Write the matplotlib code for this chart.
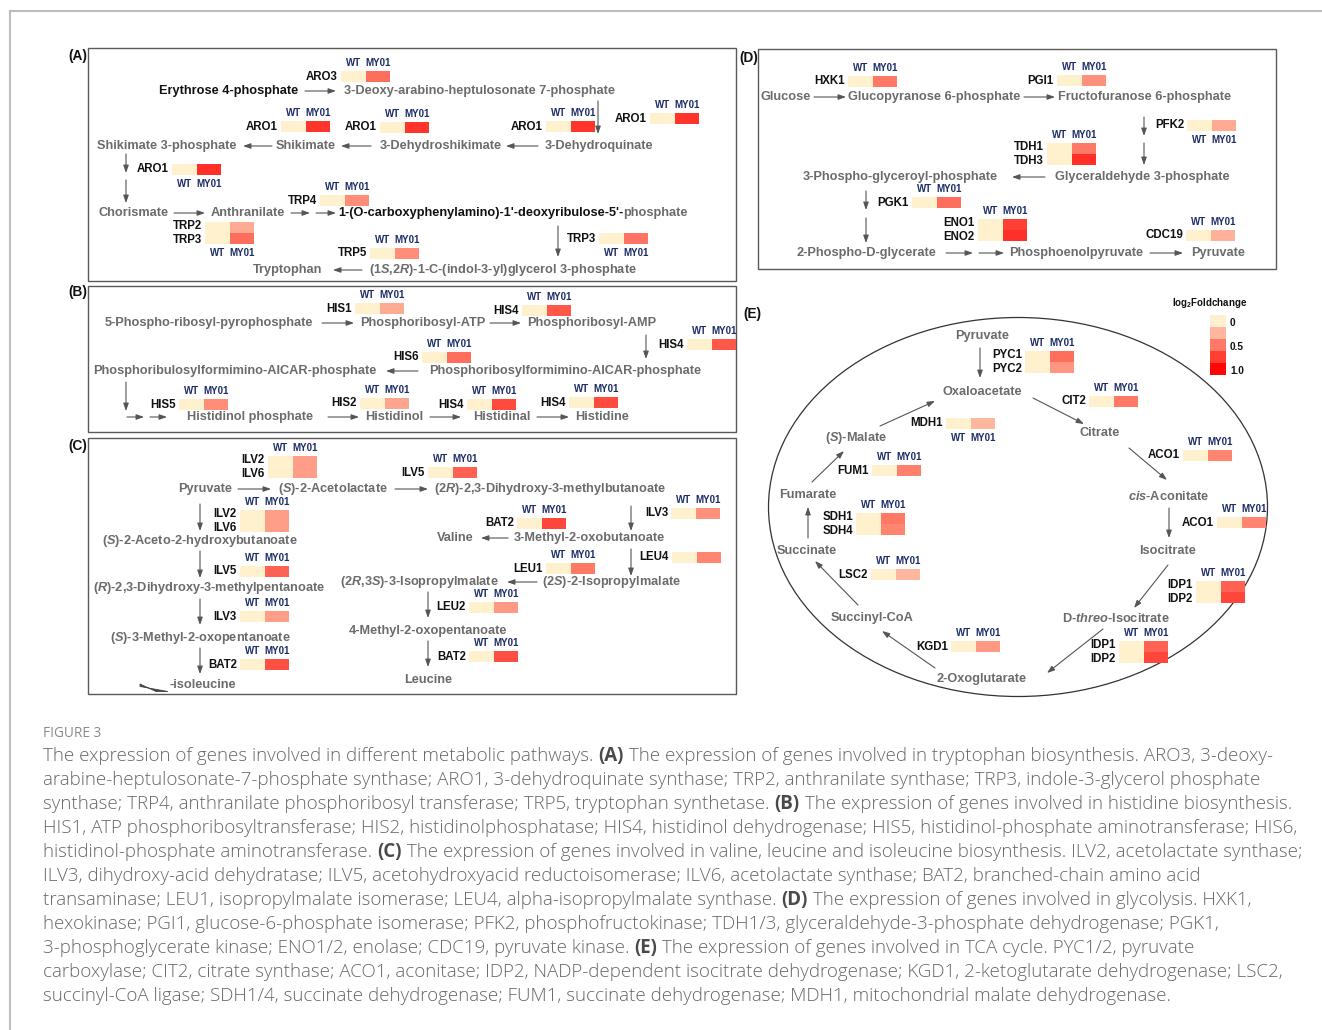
import re
import numpy as np
import matplotlib
matplotlib.use("Agg")
import matplotlib.pyplot as plt
from matplotlib.colors import LinearSegmentedColormap, Normalize
from matplotlib.patches import Rectangle, Ellipse, Polygon

# ---------------------------------------------------------------- data
samples = ["WT", "MY01"]

# log2 fold change of MY01 relative to WT (WT is the reference, 0)
trp_genes = ["ARO3", "ARO1", "ARO1", "ARO1", "ARO1", "ARO1",
             "TRP4", "TRP2", "TRP3", "TRP3", "TRP5"]
trp_fc = [0.55, 0.80, 0.80, 0.80, 0.80, 0.82,
          0.42, 0.30, 0.55, 0.52, 0.42]

his_genes = ["HIS1", "HIS4", "HIS4", "HIS6", "HIS5", "HIS2", "HIS4", "HIS4"]
his_fc = [0.30, 0.65, 0.65, 0.55, 0.42, 0.32, 0.70, 0.70]

bcaa_genes = ["ILV2", "ILV6", "ILV5", "ILV2", "ILV6", "ILV5", "ILV3", "BAT2",
              "ILV3", "BAT2", "LEU4", "LEU1", "LEU2", "BAT2"]
bcaa_fc = [0.35, 0.35, 0.60, 0.35, 0.35, 0.60, 0.35, 0.68,
           0.40, 0.72, 0.45, 0.50, 0.37, 0.68]

gly_genes = ["HXK1", "PGI1", "PFK2", "TDH1", "TDH3", "PGK1", "ENO1", "ENO2", "CDC19"]
gly_fc = [0.50, 0.40, 0.30, 0.50, 0.82, 0.55, 0.75, 0.82, 0.27]

tca_genes = ["PYC1", "PYC2", "CIT2", "MDH1", "ACO1", "FUM1", "SDH1", "SDH4",
             "ACO1", "LSC2", "IDP1", "IDP2", "KGD1", "IDP1", "IDP2"]
tca_fc = [0.55, 0.38, 0.50, 0.25, 0.45, 0.47, 0.50, 0.45,
          0.45, 0.25, 0.60, 0.72, 0.37, 0.60, 0.72]

legend_levels = [0.0, 0.25, 0.5, 0.75, 1.0]
legend_ticks = ["0", "0.5", "1.0"]
legend_tick_values = [0.0, 0.5, 1.0]

caption_title = "FIGURE 3"
caption_lines = [
    "The expression of genes involved in different metabolic pathways. (A) The expression of genes involved in tryptophan biosynthesis. ARO3, 3-deoxy-",
    "arabine-heptulosonate-7-phosphate synthase; ARO1, 3-dehydroquinate synthase; TRP2, anthranilate synthase; TRP3, indole-3-glycerol phosphate",
    "synthase; TRP4, anthranilate phosphoribosyl transferase; TRP5, tryptophan synthetase. (B) The expression of genes involved in histidine biosynthesis.",
    "HIS1, ATP phosphoribosyltransferase; HIS2, histidinolphosphatase; HIS4, histidinol dehydrogenase; HIS5, histidinol-phosphate aminotransferase; HIS6,",
    "histidinol-phosphate aminotransferase. (C) The expression of genes involved in valine, leucine and isoleucine biosynthesis. ILV2, acetolactate synthase;",
    "ILV3, dihydroxy-acid dehydratase; ILV5, acetohydroxyacid reductoisomerase; ILV6, acetolactate synthase; BAT2, branched-chain amino acid",
    "transaminase; LEU1, isopropylmalate isomerase; LEU4, alpha-isopropylmalate synthase. (D) The expression of genes involved in glycolysis. HXK1,",
    "hexokinase; PGI1, glucose-6-phosphate isomerase; PFK2, phosphofructokinase; TDH1/3, glyceraldehyde-3-phosphate dehydrogenase; PGK1,",
    "3-phosphoglycerate kinase; ENO1/2, enolase; CDC19, pyruvate kinase. (E) The expression of genes involved in TCA cycle. PYC1/2, pyruvate",
    "carboxylase; CIT2, citrate synthase; ACO1, aconitase; IDP2, NADP-dependent isocitrate dehydrogenase; KGD1, 2-ketoglutarate dehydrogenase; LSC2,",
    "succinyl-CoA ligase; SDH1/4, succinate dehydrogenase; FUM1, succinate dehydrogenase; MDH1, mitochondrial malate dehydrogenase.",
]

# ---------------------------------------------------------------- style
plt.rcParams["font.family"] = ["Liberation Sans", "DejaVu Sans"]
plt.rcParams["mathtext.fontset"] = "custom"
plt.rcParams["mathtext.rm"] = "Liberation Sans:bold"
plt.rcParams["mathtext.it"] = "Liberation Sans:italic:bold"
plt.rcParams["mathtext.bf"] = "Liberation Sans:bold"

W, H = 1322, 1030
fig = plt.figure(figsize=(W / 100, H / 100), dpi=100)
ax = fig.add_axes([0, 0, 1, 1])
ax.set_xlim(0, W)
ax.set_ylim(H, 0)
ax.axis("off")
renderer = fig.canvas.get_renderer()

cmap = LinearSegmentedColormap.from_list(
    "fc", [(0.0, "#FFF1CE"), (0.25, "#FFB69E"), (0.5, "#FF7966"),
           (0.75, "#FF4034"), (1.0, "#FF0505")])
norm = Normalize(0, 1)

MET = "#6b6b6b"
NAVY = "#1d2d68"
MET_FS = 9.2
GENE_FS = 8.3
HEAD_FS = 7.0
CW, RH = 24.5, 11
LABEL_STEP = 13.5


def met(x, y, s, ha="center", color=MET, fs=MET_FS):
    return ax.text(x, y, s, ha=ha, va="center", fontsize=fs,
                   fontweight="bold", color=color)


def arrow(x0, y0, x1, y1):
    ax.annotate("", xy=(x1, y1), xytext=(x0, y0),
                arrowprops=dict(arrowstyle="-|>,head_length=0.45,head_width=0.16",
                                color="#555555", lw=0.8, shrinkA=0, shrinkB=0))


def heat(genes, fc, idx, x0, y0, header="above"):
    n = len(idx)
    C = np.array([[0.0, fc[i]] for i in idx])
    X = x0 + CW * np.arange(3)
    Y = y0 + RH * np.arange(n + 1)
    ax.pcolormesh(X, Y, C, cmap=cmap, norm=norm, shading="flat",
                  edgecolors="none", antialiased=False)
    yc = y0 + RH * n / 2
    for r, i in enumerate(idx):
        ax.text(x0 - 3, yc + (r - (n - 1) / 2) * LABEL_STEP, genes[i],
                ha="right", va="center", fontsize=GENE_FS, fontweight="bold",
                color="#111111")
    if header:
        hy = y0 - 8 if header == "above" else y0 + n * RH + 9
        for j, s in enumerate(samples):
            ax.text(X[j] + CW / 2, hy, s, ha="center", va="center",
                    fontsize=HEAD_FS, fontweight="bold", color=NAVY)


def box(x0, y0, x1, y1, label, lx, ly):
    ax.add_patch(Rectangle((x0, y0), x1 - x0, y1 - y0, fill=False,
                           ec="#5a5a5a", lw=1.0))
    ax.text(lx, ly, label, ha="right", va="center", fontsize=9.8,
            fontweight="bold", color="#111111")


# page frame
ax.plot([10, W], [11, 11], color="#bdbdbd", lw=1.5)
ax.plot([10, 10], [11, H], color="#bdbdbd", lw=1.5)

# ---------------------------------------------------------------- (A) tryptophan
box(88, 48, 736, 281, "(A)", 87, 56)
met(229, 91, "Erythrose 4-phosphate", color="#111111")
arrow(305, 91, 336, 91)
met(344, 91, "3-Deoxy-arabino-heptulosonate 7-phosphate", ha="left")
arrow(598, 101, 598, 134)
met(167, 146, "Shikimate 3-phosphate")
arrow(272, 146, 243, 146)
met(306, 146, "Shikimate")
arrow(371, 146, 341, 146)
met(441, 146, "3-Dehydroshikimate")
arrow(538, 146, 506, 146)
met(599, 146, "3-Dehydroquinate")
arrow(126, 154, 126, 173)
arrow(126, 180, 126, 203)
met(134, 213, "Chorismate")
arrow(174, 213, 205, 213)
met(248, 213, "Anthranilate")
arrow(291, 213, 310, 213)
arrow(316, 213, 336, 213)
t = met(338, 213, "1-(O-carboxyphenylamino)-1'-deoxyribulose-5'-", ha="left",
        color="#111111")
bb = t.get_window_extent(renderer=renderer)
met(338 + bb.width, 213, "phosphate", ha="left")
arrow(558, 226, 558, 257)
met(288, 270, "Tryptophan")
arrow(362, 270, 333, 270)
met(369, 270, r"(1$\mathit{S}$,2$\mathit{R}$)-1-C-(indol-3-yl)glycerol 3-phosphate",
    ha="left")

trp_boxes = [((0,), 341, 71, "above"), ((1,), 281, 121, "above"),
             ((2,), 380, 122, "above"), ((3,), 546, 121, "above"),
             ((4,), 650, 113, "above"), ((5,), 172, 164, "below"),
             ((6,), 320, 195, "above"), ((7, 8), 205, 222, "below"),
             ((9,), 599, 233, "below"), ((10,), 370, 248, "above")]
for idx, x, y, hd in trp_boxes:
    heat(trp_genes, trp_fc, idx, x, y, hd)

# ---------------------------------------------------------------- (B) histidine
box(88, 286, 736, 432, "(B)", 87, 292)
met(209, 323, "5-Phospho-ribosyl-pyrophosphate")
arrow(322, 323, 354, 323)
met(423, 323, "Phosphoribosyl-ATP")
arrow(490, 323, 521, 323)
met(592, 323, "Phosphoribosyl-AMP")
arrow(646, 335, 646, 359)
met(235, 371, "Phosphoribulosylformimino-AICAR-phosphate")
arrow(418, 371, 386, 371)
met(565, 371, "Phosphoribosylformimino-AICAR-phosphate")
arrow(126, 382, 126, 411)
arrow(127, 417, 144, 417)
arrow(150, 417, 167, 417)
met(250, 417, "Histidinol phosphate")
arrow(328, 417, 359, 417)
met(394, 417, "Histidinol")
arrow(430, 417, 461, 417)
met(502, 417, "Histidinal")
arrow(537, 417, 569, 417)
met(602, 417, "Histidine")

his_boxes = [((0,), 355, 303, "above"), ((1,), 522, 305, "above"),
             ((2,), 687, 339, "above"), ((3,), 422, 352, "above"),
             ((4,), 179, 399, "above"), ((5,), 360, 398, "above"),
             ((6,), 467, 399, "above"), ((7,), 569, 397, "above")]
for idx, x, y, hd in his_boxes:
    heat(his_genes, his_fc, idx, x, y, hd)

# ---------------------------------------------------------------- (C) BCAA
box(88, 438, 736, 694, "(C)", 87, 446)
met(205, 489, "Pyruvate")
arrow(238, 489, 271, 489)
met(333, 489, r"($\mathit{S}$)-2-Acetolactate")
arrow(395, 489, 428, 489)
met(550, 489, r"(2$\mathit{R}$)-2,3-Dihydroxy-3-methylbutanoate")
arrow(200, 504, 200, 531)
met(200, 541, r"($\mathit{S}$)-2-Aceto-2-hydroxybutanoate")
arrow(200, 551, 200, 578)
met(209, 588, r"($\mathit{R}$)-2,3-Dihydroxy-3-methylpentanoate")
arrow(200, 599, 200, 625)
met(200, 638, r"($\mathit{S}$)-3-Methyl-2-oxopentanoate")
arrow(200, 648, 200, 674)
ax.add_patch(Polygon([(140, 684), (140, 686.5), (168, 691.5), (156, 691.5)],
                     closed=True, fc="#444444", ec="#444444", lw=0.6))
met(170, 685, "-isoleucine", ha="left")
arrow(631, 506, 631, 531)
met(455, 538, "Valine")
arrow(508, 538, 481, 538)
met(589, 538, "3-Methyl-2-oxobutanoate")
arrow(631, 549, 631, 576)
met(419, 582, r"(2$\mathit{R}$,3$\mathit{S}$)-3-Isopropylmalate")
arrow(537, 582, 507, 582)
met(611, 582, r"(2$\mathit{S}$)-2-Isopropylmalate")
arrow(428, 592, 428, 618)
met(428, 631, "4-Methyl-2-oxopentanoate")
arrow(428, 641, 428, 667)
met(428, 680, "Leucine")

bcaa_boxes = [((0, 1), 268, 456, "above"), ((2,), 428, 467, "above"),
              ((3, 4), 240, 510, "above"), ((5,), 240, 566, "above"),
              ((6,), 240, 611, "above"), ((7,), 240, 659, "above"),
              ((8,), 671, 508, "above"), ((9,), 517, 518, "above"),
              ((10,), 672, 552, None), ((11,), 546, 563, "above"),
              ((12,), 469, 602, "above"), ((13,), 469, 651, "above")]
for idx, x, y, hd in bcaa_boxes:
    heat(bcaa_genes, bcaa_fc, idx, x, y, hd)

# ---------------------------------------------------------------- (D) glycolysis
box(758, 49, 1276, 269, "(D)", 758, 58)
met(786, 97, "Glucose")
arrow(814, 97, 846, 97)
met(934, 97, "Glucopyranose 6-phosphate")
arrow(1024, 97, 1055, 97)
met(1145, 97, "Fructofuranose 6-phosphate")
arrow(1144, 117, 1144, 136)
arrow(1144, 143, 1144, 165)
met(900, 177, "3-Phospho-glyceroyl-phosphate")
arrow(1045, 177, 1012, 177)
met(1142, 177, "Glyceraldehyde 3-phosphate")
arrow(866, 191, 866, 210)
arrow(866, 218, 866, 243)
met(866, 253, "2-Phospho-D-glycerate")
arrow(946, 253, 973, 253)
arrow(979, 253, 1004, 253)
met(1076, 253, "Phosphoenolpyruvate")
arrow(1150, 253, 1183, 253)
met(1218, 253, "Pyruvate")

gly_boxes = [((0,), 848, 76, "above"), ((1,), 1057, 75, "above"),
             ((2,), 1187, 120, "below"), ((3, 4), 1047, 143, "above"),
             ((5,), 912, 197, "above"), ((6, 7), 978, 219, "above"),
             ((8,), 1186, 230, "above")]
for idx, x, y, hd in gly_boxes:
    heat(gly_genes, gly_fc, idx, x, y, hd)

# ---------------------------------------------------------------- (E) TCA cycle
ax.text(761, 314, "(E)", ha="right", va="center", fontsize=9.8,
        fontweight="bold", color="#111111")
ax.add_patch(Ellipse((1018, 507), 499, 379, fill=False, ec="#333333", lw=0.9))
met(982, 336, "Pyruvate")
arrow(980, 348, 980, 378)
met(982, 392, "Oxaloacetate")
arrow(1033, 398, 1084, 424)
met(1100, 433, "Citrate")
arrow(1129, 448, 1167, 480)
met(1169, 496, r"$\mathit{cis}$-Aconitate")
arrow(1169, 508, 1169, 538)
met(1168, 551, "Isocitrate")
arrow(1168, 565, 1134, 608)
met(1116, 618, r"D-$\mathit{threo}$-Isocitrate")
arrow(1103, 629, 1047, 673)
met(982, 679, "2-Oxoglutarate")
arrow(935, 668, 882, 631)
met(872, 618, "Succinyl-CoA")
arrow(858, 605, 815, 561)
met(807, 551, "Succinate")
arrow(808, 538, 808, 507)
met(808, 495, "Fumarate")
arrow(812, 482, 844, 451)
met(856, 438, r"($\mathit{S}$)-Malate")
arrow(880, 426, 935, 401)

tca_boxes = [((0, 1), 1025, 351, "above"), ((2,), 1089, 396, "above"),
             ((3,), 946, 418, "below"), ((4,), 1183, 450, "above"),
             ((5,), 872, 465, "above"), ((6, 7), 856, 513, "above"),
             ((8,), 1217, 517, "above"), ((9,), 871, 569, "above"),
             ((10, 11), 1196, 581, "above"), ((12,), 951, 641, "above"),
             ((13, 14), 1119, 641, "above")]
for idx, x, y, hd in tca_boxes:
    heat(tca_genes, tca_fc, idx, x, y, hd)

# colour key
ax.text(1210, 303, r"log$_2$Foldchange", ha="center", va="center",
        fontsize=7.0, fontweight="bold", color="#111111")
key_y = 315 + 12 * np.arange(len(legend_levels) + 1)
ax.pcolormesh([1210, 1226], key_y, np.array(legend_levels)[:, None],
              cmap=cmap, norm=norm, shading="flat", antialiased=False)
for lab, v in zip(legend_ticks, legend_tick_values):
    row = legend_levels.index(v)
    ax.text(1230, key_y[row] + 8, lab, ha="left", va="center", fontsize=7.2,
            fontweight="bold", color="#111111")

# ---------------------------------------------------------------- caption
CAP_FONT = ["Open Sans", "DejaVu Sans"]
ax.text(43, 737, caption_title, ha="left", va="baseline", fontsize=9.8,
        family=CAP_FONT, color="#8a8a8a")

probe = ax.text(0, 0, caption_lines[0], fontsize=12, family=CAP_FONT,
                fontweight="light")
cap_fs = 12 * 1225 / probe.get_window_extent(renderer=renderer).width
probe.remove()

for k, line in enumerate(caption_lines):
    x = 43
    y = 761 + 24 * k
    for part in re.split(r"(\([A-E]\))", line):
        if not part:
            continue
        bold = re.fullmatch(r"\([A-E]\)", part) is not None
        t = ax.text(x, y, part, ha="left", va="baseline", fontsize=cap_fs,
                    family=CAP_FONT, fontweight="bold" if bold else "light",
                    color="#4a4a4a" if bold else "#676767")
        x += t.get_window_extent(renderer=renderer).width

fig.savefig("out.png", dpi=100)
